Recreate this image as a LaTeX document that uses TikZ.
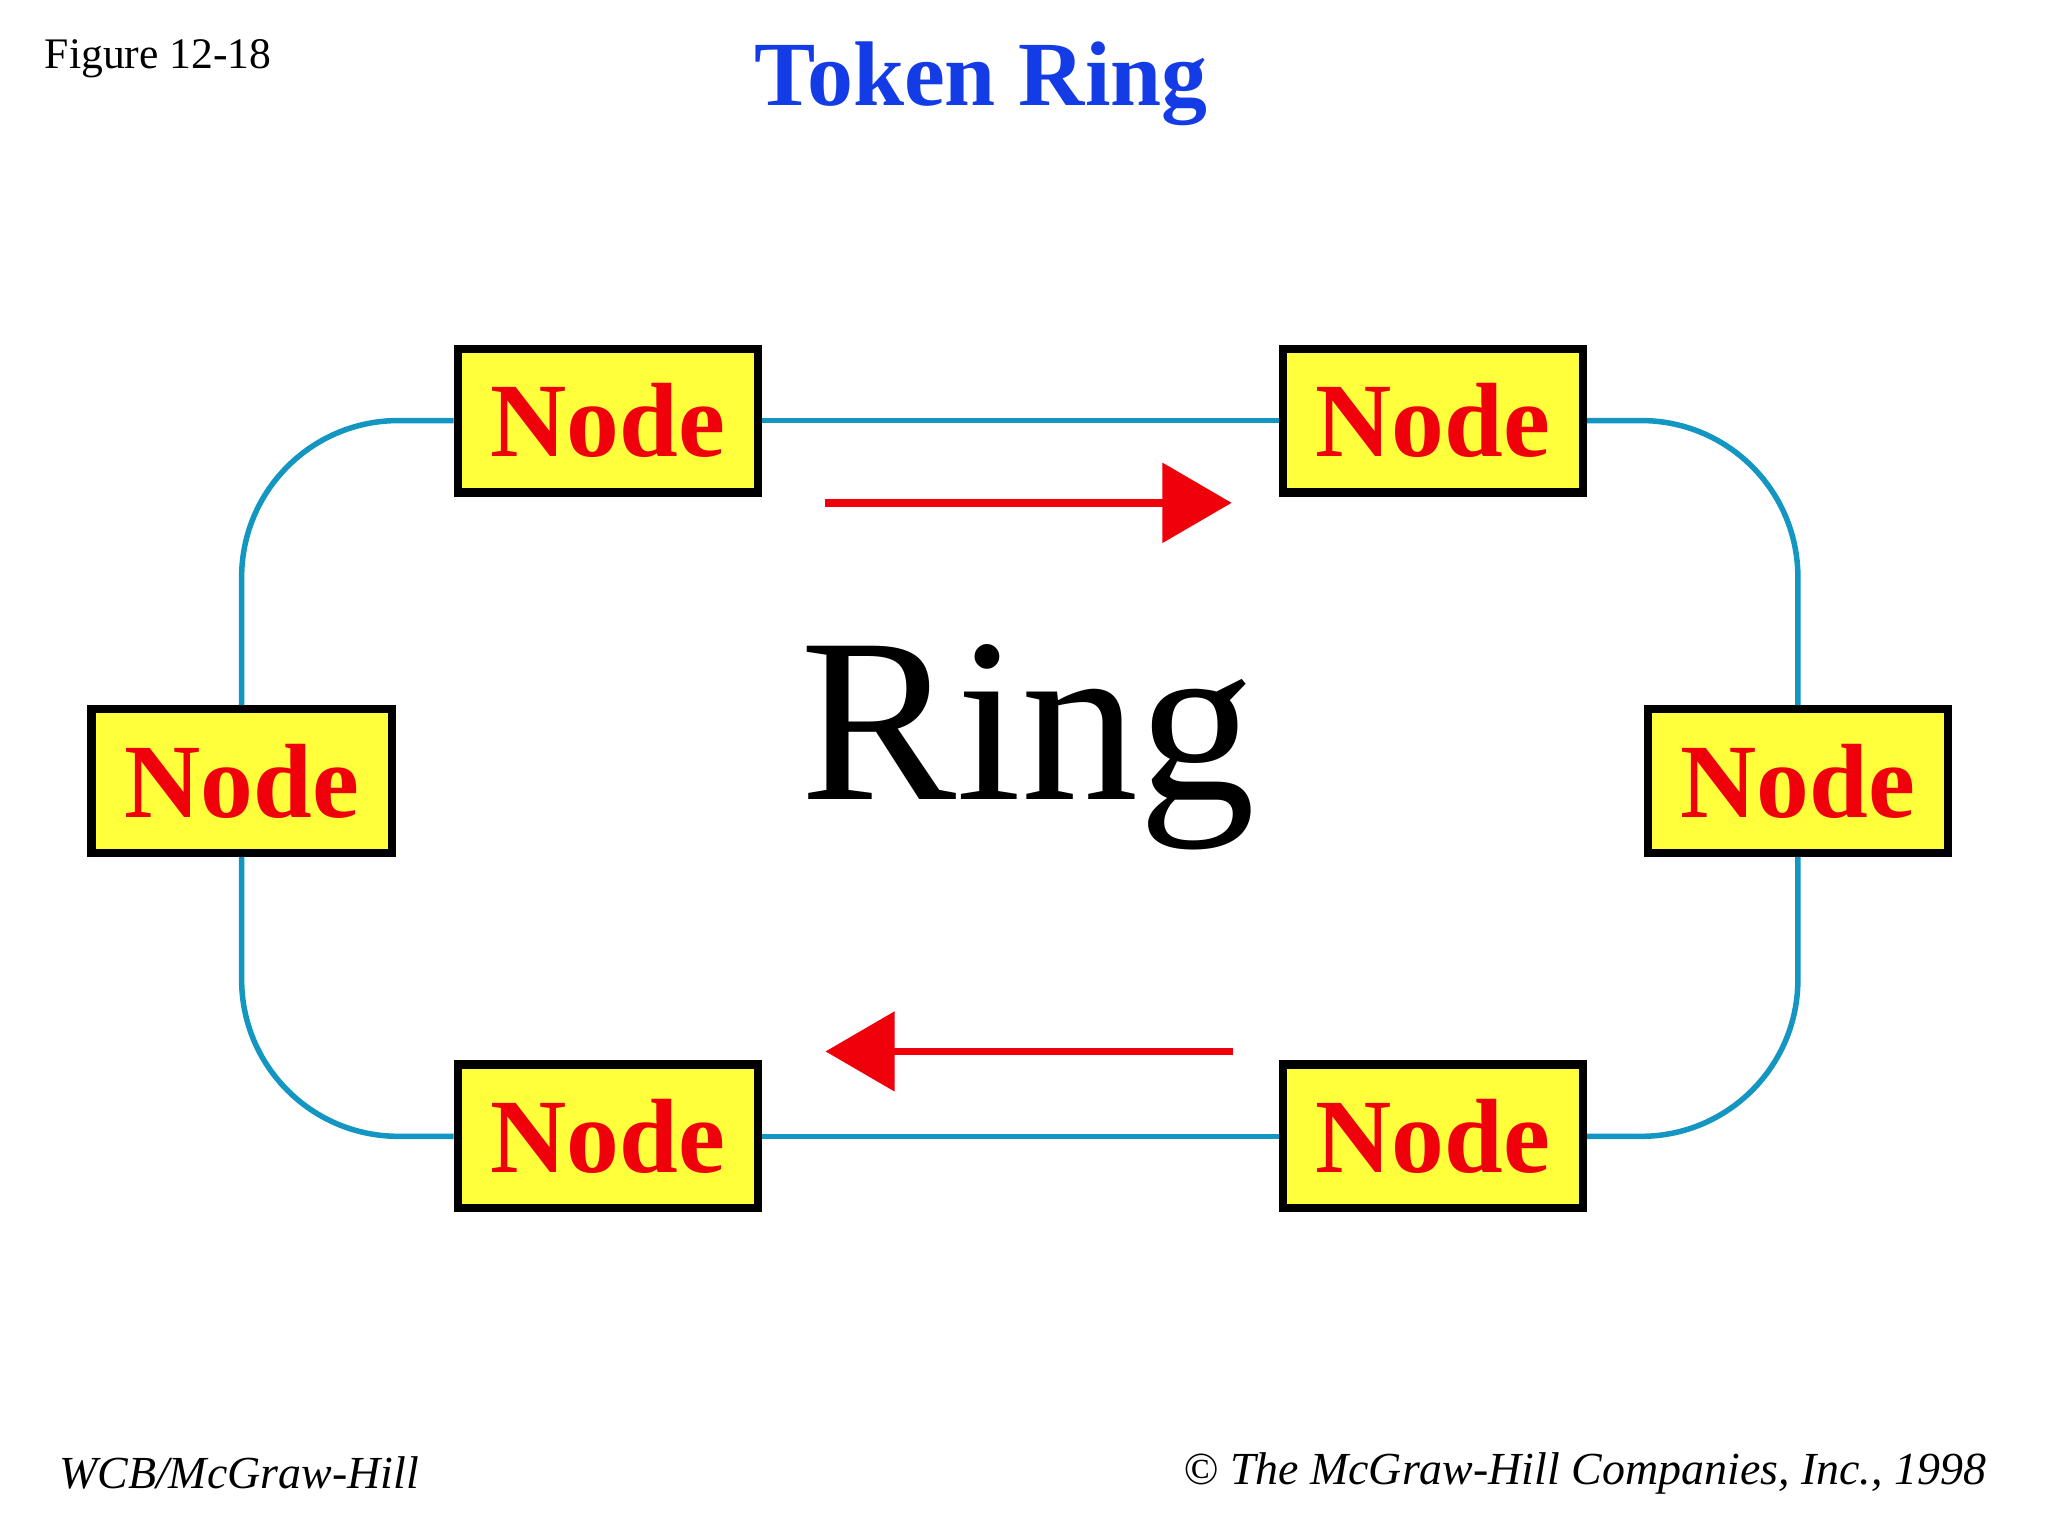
\documentclass[tikz,border=0pt]{standalone}
\usepackage{fontspec}
\setmainfont{Liberation Serif}
\usetikzlibrary{arrows.meta}
\definecolor{ringblue}{RGB}{20,150,195}
\definecolor{nodeyellow}{RGB}{255,255,60}
\definecolor{titleblue}{RGB}{20,60,230}
\definecolor{arrowred}{RGB}{240,0,10}
\begin{document}
\begin{tikzpicture}[
  box/.style={draw=black,line width=1.8pt,fill=nodeyellow,minimum width=2.3cm,minimum height=1.1cm,inner sep=0pt,text=arrowred,font=\fontsize{23}{23}\selectfont\bfseries},
  ring/.style={draw=ringblue,line width=1.2pt,rounded corners=1.2cm},
  flow/.style={draw=arrowred,line width=1.7pt,-{Triangle[length=0.53cm,width=0.6cm]}}
]
\useasboundingbox (0,0) rectangle (15.68,-11.76);
\node[anchor=west] (fig) at (0.22,-0.45) {\fontsize{9.5}{10}\selectfont Figure 12-18};
\node (title) at (7.51,-0.64) {\fontsize{20}{20}\selectfont\bfseries\color{titleblue}Token Ring};
\node (TL) [box] at (4.655,-3.22) {Node};
\node (TR) [box] at (10.97,-3.22) {Node};
\node (L)  [box] at (1.85,-5.98) {Node};
\node (R)  [box] at (13.765,-5.98) {Node};
\node (BL) [box] at (4.655,-8.70) {Node};
\node (BR) [box] at (10.97,-8.70) {Node};
\draw[ring] (TL.east) -- (TR.west);
\draw[ring] (BL.east) -- (BR.west);
\draw[ring] (L.north) |- (TL.west);
\draw[ring] (L.south) |- (BL.west);
\draw[ring] (R.north) |- (TR.east);
\draw[ring] (R.south) |- (BR.east);
\coordinate (a1s) at (6.32,-3.85);
\coordinate (a1e) at (9.43,-3.85);
\coordinate (a2s) at (9.44,-8.05);
\coordinate (a2e) at (6.32,-8.05);
\draw[flow] (a1s) -- (a1e);
\draw[flow] (a2s) -- (a2e);
\node (ring) at (7.87,-5.72) {\fontsize{51}{51}\selectfont Ring};
\node[anchor=west] (wcb) at (0.33,-11.28) {\fontsize{10}{12}\selectfont\itshape WCB/McGraw-Hill};
\node[anchor=east] (copy) at (15.33,-11.28) {\fontsize{10}{12}\selectfont\itshape \textcopyright{} The McGraw-Hill Companies, Inc., 1998};
\end{tikzpicture}
\end{document}
